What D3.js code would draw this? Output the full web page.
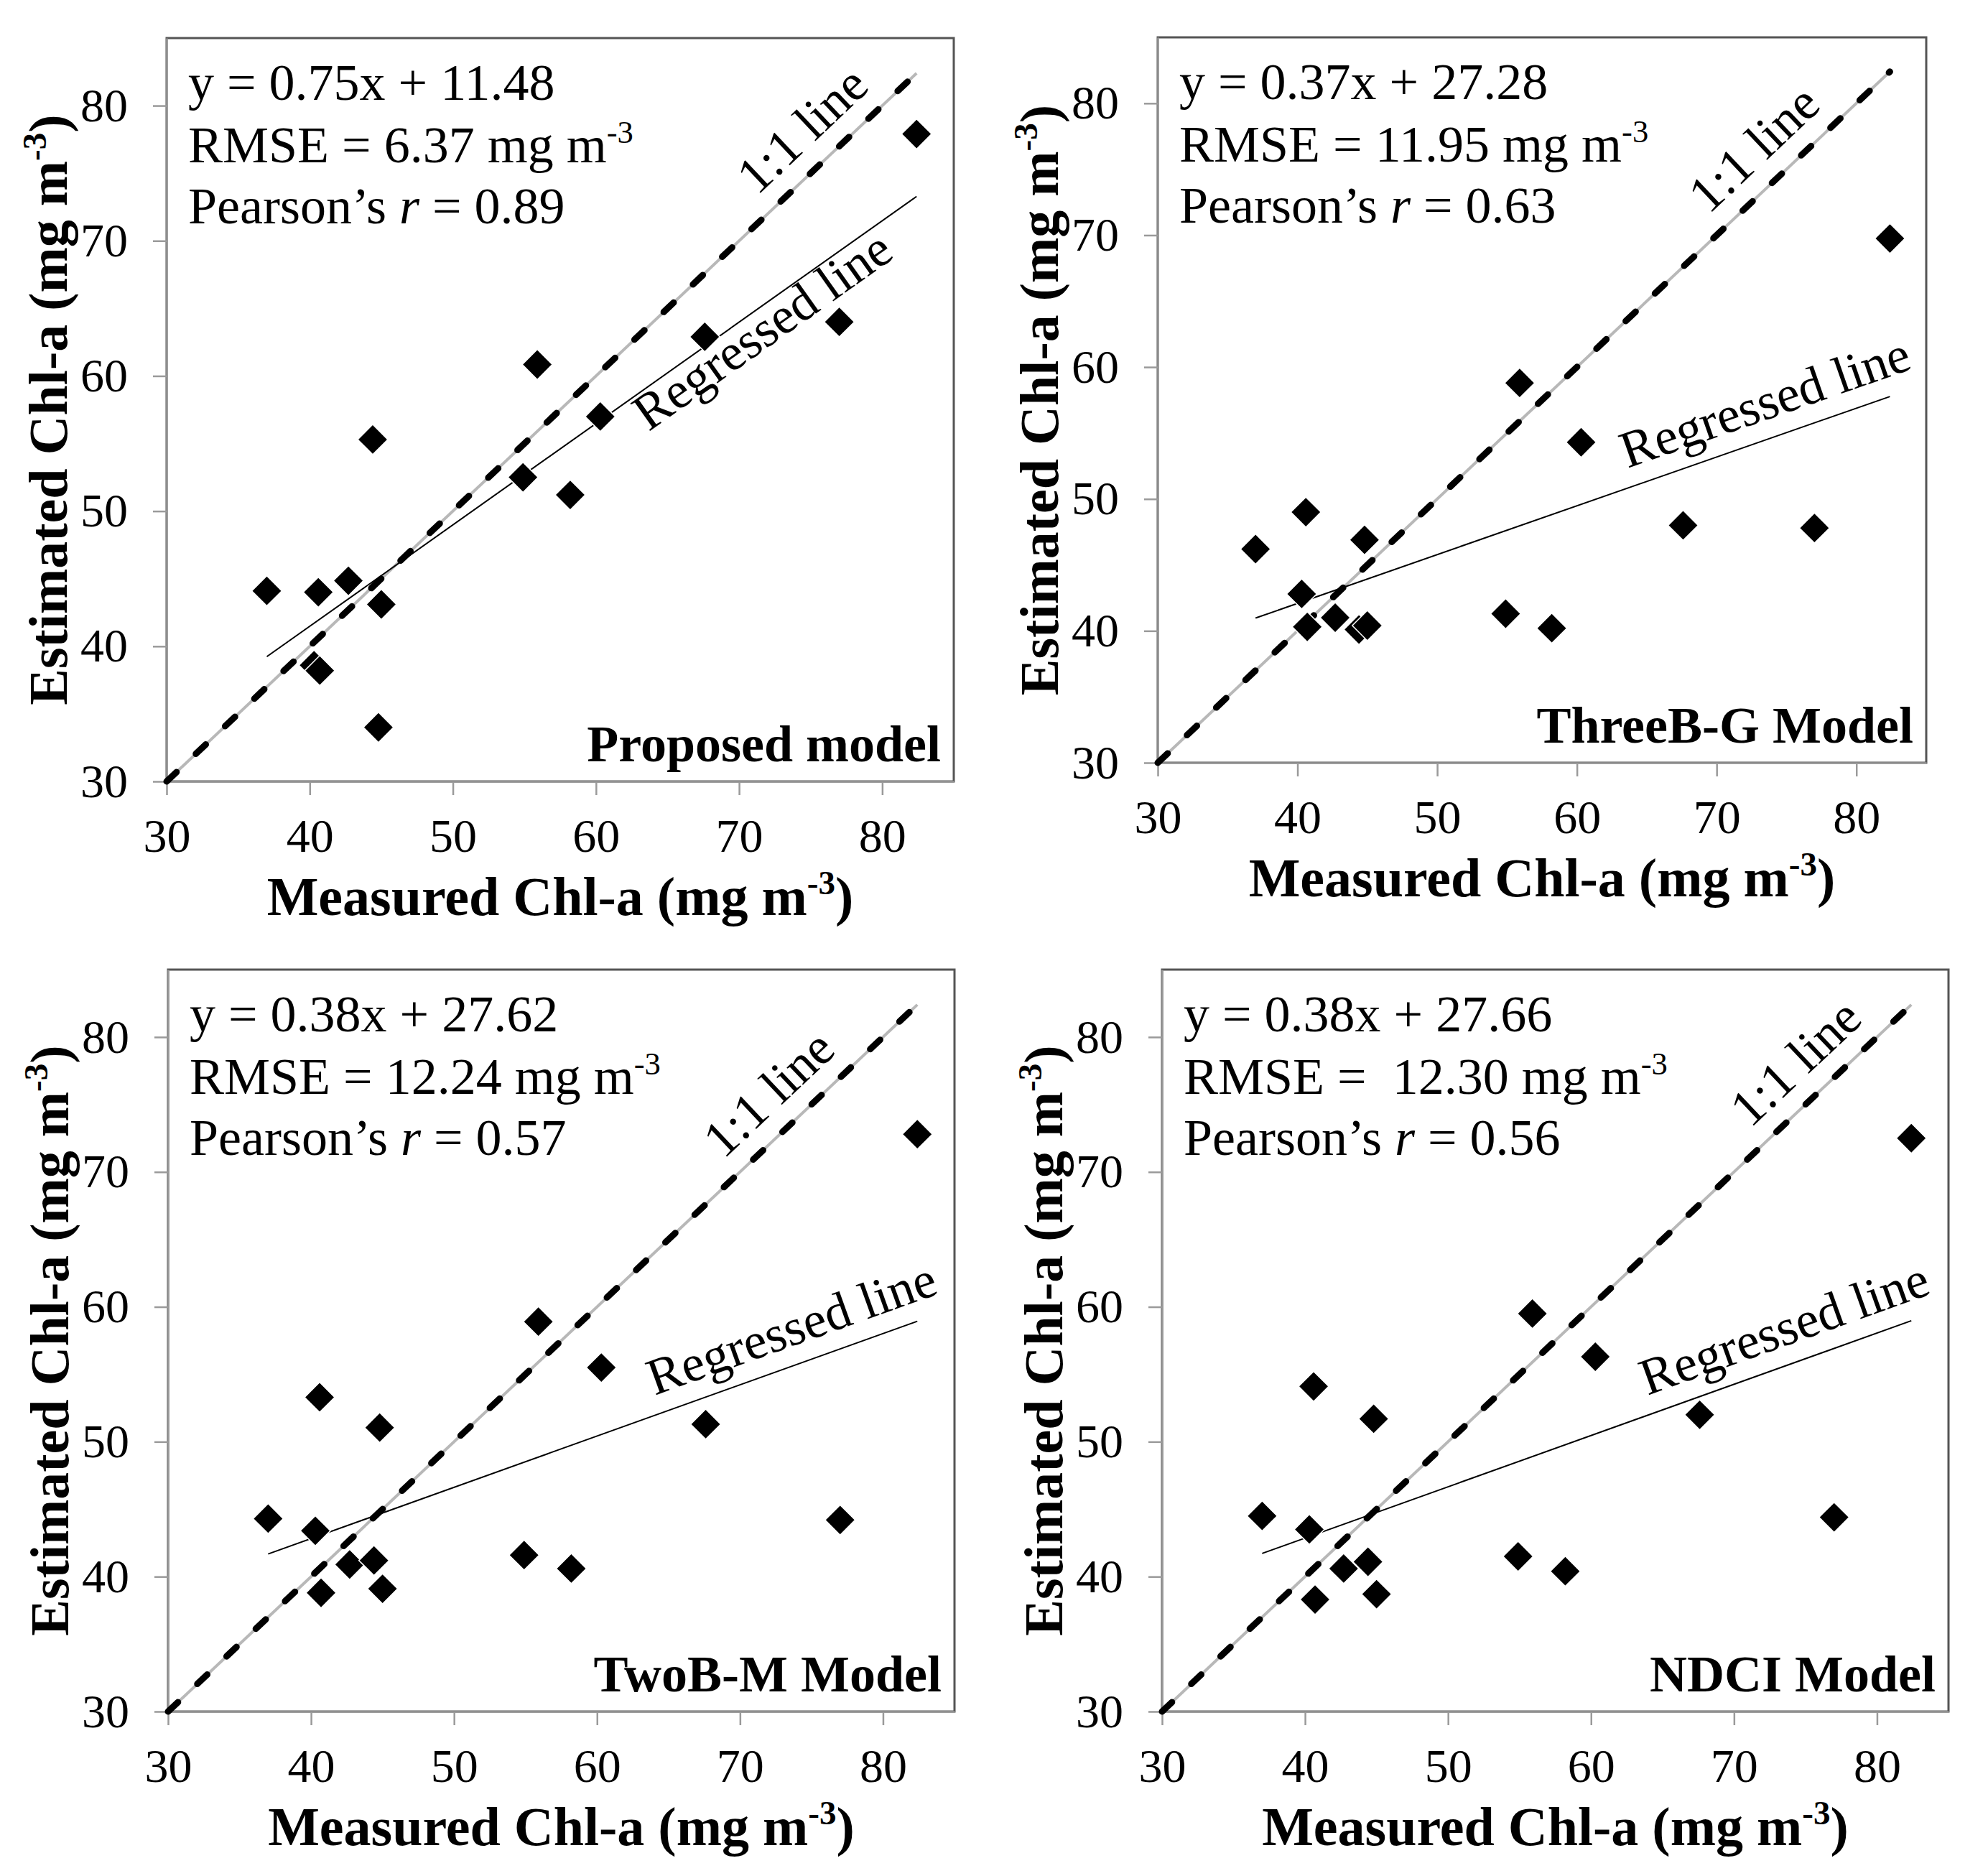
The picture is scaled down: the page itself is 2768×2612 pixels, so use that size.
<!DOCTYPE html>
<html><head><meta charset="utf-8">
<script src="https://cdn.jsdelivr.net/npm/d3@7"></script>
<style>
body{margin:0;background:#fff}
svg text{font-family:'Liberation Serif','Times New Roman',Times,serif;fill:#000}
</style>
</head><body>
<svg id="chart" width="2768" height="2612"></svg>
<script>
// ---------------- data ----------------
const measured     = [37.0, 40.3, 40.6, 40.7, 42.7, 44.4, 44.8, 45.0, 54.9, 55.9, 58.2, 60.3, 67.6, 77.0, 82.4];
const estProposed  = [44.1, 38.6, 44.0, 38.2, 44.85, 55.3, 34.0, 43.1, 52.5, 60.85, 51.2, 57.0, 62.9, 64.0, 77.9];
const estThreeBG   = [46.2, 42.8, 49.0, 40.3, 41.0, 40.1, 46.9, 40.4, 41.3, 58.8, 40.2, 54.3, 48.0, 47.8, 69.75];
const estTwoBM     = [44.3, 43.4, 53.3, 38.8, 40.9, 41.2, 51.05, 39.1, 41.6, 58.9, 40.6, 55.5, 51.3, 44.2, 72.8];
const estNDCI      = [44.5, 43.5, 54.1, 38.3, 40.6, 41.1, 51.7, 38.7, 41.5, 59.5, 40.4, 56.3, 52.0, 44.4, 72.5];
const estimates    = [estProposed, estThreeBG, estTwoBM, estNDCI];

const modelNames   = ["Proposed model", "ThreeB-G Model", "TwoB-M Model", "NDCI Model"];
const slopes       = [0.75, 0.37, 0.38, 0.38];
const intercepts   = [11.48, 27.28, 27.62, 27.66];
const eqLabels     = ["y = 0.75x + 11.48", "y = 0.37x + 27.28", "y = 0.38x + 27.62", "y = 0.38x + 27.66"];
const rmseLabels   = ["RMSE = 6.37 mg m", "RMSE = 11.95 mg m", "RMSE = 12.24 mg m", "RMSE =  12.30 mg m"];
const rLabels      = ["0.89", "0.63", "0.57", "0.56"];
const tickValues   = [30, 40, 50, 60, 70, 80];
const axisDomain   = [30, 85];
const xTitle       = ["Measured Chl-a (mg m", "-3", ")"];
const yTitle       = ["Estimated Chl-a (mg m", "-3", ")"];
const oneLabel     = "1:1 line";
const regLabel     = "Regressed line";
// label anchor positions along each line (data x units)
const oneLabelAt   = [76.2, 74.5, 73.8, 76.1];
const regLabelAt   = [70.8, 74.3, 74.45, 74.35];
const regLabelSide = [1, -1, -1, -1];

// ---------------- layout ----------------
const boxes = [
  {x0: 232,  y0: 53,   x1: 1328, y1: 1088},
  {x0: 1612, y0: 52,   x1: 2682, y1: 1062},
  {x0: 234,  y0: 1350, x1: 1329, y1: 2383},
  {x0: 1618, y0: 1350, x1: 2713, y1: 2383}
];
const FS_TICK = 66, FS_TXT = 72, FS_TITLE = 76, FS_MODEL = 72;

const svg = d3.select("#chart");

function supText(sel, parts, size) {
  sel.append("tspan").text(parts[0]);
  sel.append("tspan").text(parts[1]).attr("font-size", size * 0.62).attr("dy", -size * 0.38);
  sel.append("tspan").text(parts[2]).attr("dy", size * 0.38);
}

boxes.forEach((b, i) => {
  const g = svg.append("g");
  const x = d3.scaleLinear().domain(axisDomain).range([b.x0, b.x1]);
  const y = d3.scaleLinear().domain(axisDomain).range([b.y1, b.y0]);

  // frame
  g.append("rect").attr("x", b.x0).attr("y", b.y0)
    .attr("width", b.x1 - b.x0).attr("height", b.y1 - b.y0)
    .attr("fill", "none").attr("stroke", "#555").attr("stroke-width", 3);

  // axes
  const ax = g.append("g").attr("transform", `translate(0,${b.y1})`)
    .call(d3.axisBottom(x).tickValues(tickValues).tickSize(19).tickSizeOuter(0).tickPadding(32).tickFormat(d3.format("d")));
  const ay = g.append("g").attr("transform", `translate(${b.x0},0)`)
    .call(d3.axisLeft(y).tickValues(tickValues).tickSize(19).tickSizeOuter(0).tickPadding(35).tickFormat(d3.format("d")));
  [ax, ay].forEach(a => {
    a.select(".domain").attr("stroke", "#9a9a9a").attr("stroke-width", 2.5);
    a.selectAll(".tick line").attr("stroke", "#9a9a9a").attr("stroke-width", 2.5);
    a.selectAll(".tick text").attr("font-size", FS_TICK)
      .style("font-family", "'Liberation Serif','Times New Roman',serif").attr("fill", "#000");
  });

  // 1:1 line
  const lo = axisDomain[0], hi = d3.max(measured);
  g.append("line").attr("x1", x(lo)).attr("y1", y(lo)).attr("x2", x(hi)).attr("y2", y(hi))
    .attr("stroke", "#b8b8b8").attr("stroke-width", 4);
  g.append("line").attr("x1", x(lo)).attr("y1", y(lo)).attr("x2", x(hi)).attr("y2", y(hi))
    .attr("stroke", "#000").attr("stroke-width", 9).attr("stroke-dasharray", "19,37")
    .attr("stroke-linecap", "round");

  // regression line
  const rx0 = d3.min(measured), rx1 = d3.max(measured);
  const f = v => slopes[i] * v + intercepts[i];
  g.append("line").attr("x1", x(rx0)).attr("y1", y(f(rx0))).attr("x2", x(rx1)).attr("y2", y(f(rx1)))
    .attr("stroke", "#000").attr("stroke-width", 2);

  // points
  const pts = measured.map((m, k) => [m, estimates[i][k]]);
  g.selectAll("path.pt").data(pts).join("path").attr("class", "pt")
    .attr("d", d3.symbol(d3.symbolSquare, 880))
    .attr("transform", d => `translate(${x(d[0])},${y(d[1])}) rotate(45)`)
    .attr("fill", "#000").attr("stroke", "#fff").attr("stroke-width", 1.5);

  // line labels
  const angOne = Math.atan2(y(lo) - y(hi), x(hi) - x(lo)) * 180 / Math.PI;
  g.append("text").attr("font-size", FS_TXT).attr("text-anchor", "middle")
    .attr("transform", `translate(${x(oneLabelAt[i])},${y(oneLabelAt[i])}) rotate(${-angOne})`)
    .attr("y", -28).text(oneLabel);
  const angReg = Math.atan2(y(f(rx0)) - y(f(rx1)), x(rx1) - x(rx0)) * 180 / Math.PI;
  const rv = regLabelAt[i];
  g.append("text").attr("font-size", FS_TXT).attr("text-anchor", "middle")
    .attr("transform", `translate(${x(rv)},${y(f(rv))}) rotate(${-angReg})`)
    .attr("y", regLabelSide[i] > 0 ? 52 : -26).text(regLabel);

  // stats text
  const tx = b.x0 + 30;
  g.append("text").attr("x", tx).attr("y", b.y0 + 86).attr("font-size", FS_TXT).text(eqLabels[i]);
  const t2 = g.append("text").attr("x", tx).attr("y", b.y0 + 173).attr("font-size", FS_TXT)
    .style("white-space", "pre").attr("xml:space", "preserve");
  supText(t2, [rmseLabels[i], "-3", ""], FS_TXT);
  const t3 = g.append("text").attr("x", tx).attr("y", b.y0 + 258).attr("font-size", FS_TXT);
  t3.append("tspan").text("Pearson\u2019s ");
  t3.append("tspan").attr("font-style", "italic").text("r");
  t3.append("tspan").text(" = " + rLabels[i]);

  // model name
  g.append("text").attr("x", b.x1 - 18).attr("y", b.y1 - 28).attr("text-anchor", "end")
    .attr("font-size", FS_MODEL).attr("font-weight", "bold").text(modelNames[i]);

  // axis titles
  const xt = g.append("text").attr("x", (b.x0 + b.x1) / 2).attr("y", b.y1 + 186)
    .attr("text-anchor", "middle").attr("font-size", FS_TITLE).attr("font-weight", "bold");
  supText(xt, xTitle, FS_TITLE);
  const yt = g.append("text").attr("text-anchor", "middle").attr("font-size", FS_TITLE).attr("font-weight", "bold")
    .attr("transform", `translate(${b.x0 - 139},${(b.y0 + b.y1) / 2}) rotate(-90)`);
  supText(yt, yTitle, FS_TITLE);
});
</script>
</body></html>
